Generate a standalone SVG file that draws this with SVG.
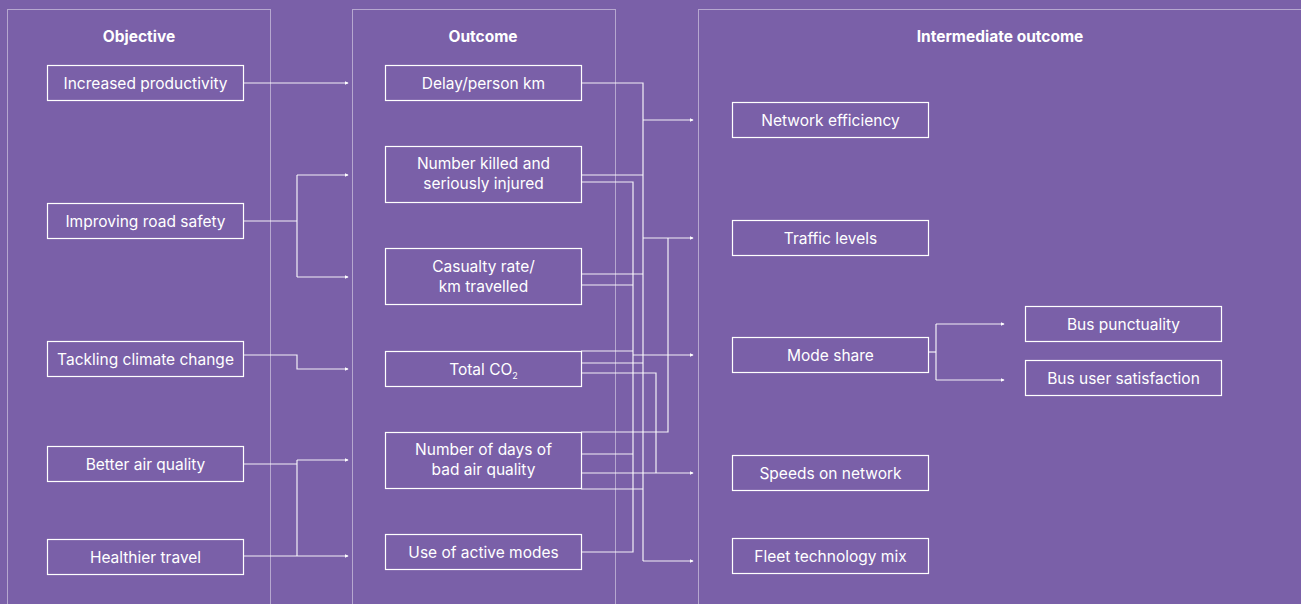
<svg xmlns="http://www.w3.org/2000/svg" width="1301" height="604" viewBox="0 0 1301 604">
  <style>
    .panel { fill: none; stroke: #ffffff; stroke-opacity: 0.45; stroke-width: 1; }
    .box { fill: none; stroke: #ffffff; stroke-width: 1.2; }
    .lbl { font-family: Inter, "Liberation Sans", sans-serif; font-size: 15.5px; fill: #ffffff; text-anchor: middle; }
    .head { font-family: Inter, "Liberation Sans", sans-serif; font-size: 15.5px; font-weight: bold; fill: #ffffff; text-anchor: middle; }
    .wire { fill: none; stroke: #ffffff; stroke-width: 1.2; stroke-opacity: 0.9; }
    .arrow { fill: none; stroke: #ffffff; stroke-width: 1.2; stroke-opacity: 0.9; marker-end: url(#tip); }
  </style>
  <defs>
    <marker id="tip" viewBox="0 0 6 6" refX="5" refY="3" markerWidth="4" markerHeight="4" markerUnits="userSpaceOnUse" orient="auto">
      <path d="M0,0 L6,3 L0,6 Z" fill="#ffffff"/>
    </marker>
  </defs>

  <rect x="0" y="0" width="1301" height="604" fill="#7A60A8"/>

  <!-- column panels -->
  <g id="panels">
    <rect class="panel" x="7.5" y="9.5" width="263" height="600"/>
    <rect class="panel" x="352.5" y="9.5" width="263" height="600"/>
    <rect class="panel" x="698.5" y="9.5" width="610" height="600"/>
    <text class="head" x="139" y="42">Objective</text>
    <text class="head" x="483" y="42">Outcome</text>
    <text class="head" x="1000" y="42">Intermediate outcome</text>
  </g>

  <!-- connectors -->
  <g id="connectors">
    <!-- objectives to outcomes -->
    <path class="arrow" d="M244,83 H348"/>
    <path class="wire" d="M244,221 H297"/>
    <path class="arrow" d="M297,175 H348"/>
    <path class="arrow" d="M297,277 H348"/>
    <path class="wire" d="M297,175 V277"/>
    <path class="arrow" d="M244,355 H297 V369 H348"/>
    <path class="wire" d="M244,464 H297"/>
    <path class="wire" d="M297,460 V556"/>
    <path class="arrow" d="M297,460 H348"/>
    <path class="arrow" d="M244,556 H348"/>

    <!-- outcomes to intermediate outcomes: trunk at x=643 -->
    <path class="wire" d="M581,83 H643 V561"/>
    <path class="wire" d="M581,175 H643"/>
    <path class="wire" d="M581,274 H643"/>
    <path class="wire" d="M581,363 H643"/>
    <path class="wire" d="M581,489 H643"/>
    <path class="arrow" d="M643,120 H693"/>
    <path class="arrow" d="M643,238 H693"/>
    <path class="arrow" d="M643,561 H693"/>

    <!-- trunk at x=633 -->
    <path class="wire" d="M581,182 H633 V552 H581"/>
    <path class="wire" d="M581,285 H633"/>
    <path class="wire" d="M581,351 H633"/>
    <path class="wire" d="M581,454 H633"/>
    <path class="arrow" d="M633,355 H693"/>

    <!-- trunk at x=656 -->
    <path class="wire" d="M581,373 H656 V473"/>
    <path class="arrow" d="M581,473 H693"/>

    <!-- trunk at x=668 -->
    <path class="wire" d="M581,432 H668 V238"/>

    <!-- mode share split -->
    <path class="wire" d="M928,352 H936"/>
    <path class="wire" d="M936,324 V380"/>
    <path class="arrow" d="M936,324 H1004"/>
    <path class="arrow" d="M936,380 H1004"/>
  </g>

  <!-- objective nodes -->
  <g id="obj-productivity"><rect class="box" x="47.5" y="65.5" width="196" height="35"/><text class="lbl" x="145.5" y="88.5">Increased productivity</text></g>
  <g id="obj-road-safety"><rect class="box" x="47.5" y="203.5" width="196" height="35"/><text class="lbl" x="145.5" y="226.5">Improving road safety</text></g>
  <g id="obj-climate"><rect class="box" x="47.5" y="341.5" width="196" height="35"/><text class="lbl" x="145.5" y="364.5">Tackling climate change</text></g>
  <g id="obj-air"><rect class="box" x="47.5" y="446.5" width="196" height="35"/><text class="lbl" x="145.5" y="469.5">Better air quality</text></g>
  <g id="obj-healthier"><rect class="box" x="47.5" y="539.5" width="196" height="35"/><text class="lbl" x="145.5" y="562.5">Healthier travel</text></g>

  <!-- outcome nodes -->
  <g id="out-delay"><rect class="box" x="385.5" y="65.5" width="196" height="35"/><text class="lbl" x="483.5" y="88.5">Delay/person km</text></g>
  <g id="out-ksi"><rect class="box" x="385.5" y="146.5" width="196" height="56"/><text class="lbl" x="483.5" y="168.5">Number killed and</text><text class="lbl" x="483.5" y="188.5">seriously injured</text></g>
  <g id="out-casualty"><rect class="box" x="385.5" y="248.5" width="196" height="56"/><text class="lbl" x="483.5" y="271.5">Casualty rate/</text><text class="lbl" x="483.5" y="291.5">km travelled</text></g>
  <g id="out-co2"><rect class="box" x="385.5" y="351.5" width="196" height="35"/><text class="lbl" x="483.5" y="374.5">Total CO<tspan font-size="9" dy="4">2</tspan></text></g>
  <g id="out-bad-air"><rect class="box" x="385.5" y="432.5" width="196" height="56"/><text class="lbl" x="483.5" y="454.5">Number of days of</text><text class="lbl" x="483.5" y="474.5">bad air quality</text></g>
  <g id="out-active"><rect class="box" x="385.5" y="534.5" width="196" height="35"/><text class="lbl" x="483.5" y="557.5">Use of active modes</text></g>

  <!-- intermediate outcome nodes -->
  <g id="int-network"><rect class="box" x="732.5" y="102.5" width="196" height="35"/><text class="lbl" x="830.5" y="125.5">Network efficiency</text></g>
  <g id="int-traffic"><rect class="box" x="732.5" y="220.5" width="196" height="35"/><text class="lbl" x="830.5" y="243.5">Traffic levels</text></g>
  <g id="int-mode"><rect class="box" x="732.5" y="337.5" width="196" height="35"/><text class="lbl" x="830.5" y="360.5">Mode share</text></g>
  <g id="int-speeds"><rect class="box" x="732.5" y="455.5" width="196" height="35"/><text class="lbl" x="830.5" y="478.5">Speeds on network</text></g>
  <g id="int-fleet"><rect class="box" x="732.5" y="538.5" width="196" height="35"/><text class="lbl" x="830.5" y="561.5">Fleet technology mix</text></g>
  <g id="int-punctuality"><rect class="box" x="1025.5" y="306.5" width="196" height="35"/><text class="lbl" x="1123.5" y="329.5">Bus punctuality</text></g>
  <g id="int-satisfaction"><rect class="box" x="1025.5" y="360.5" width="196" height="35"/><text class="lbl" x="1123.5" y="383.5">Bus user satisfaction</text></g>
</svg>
